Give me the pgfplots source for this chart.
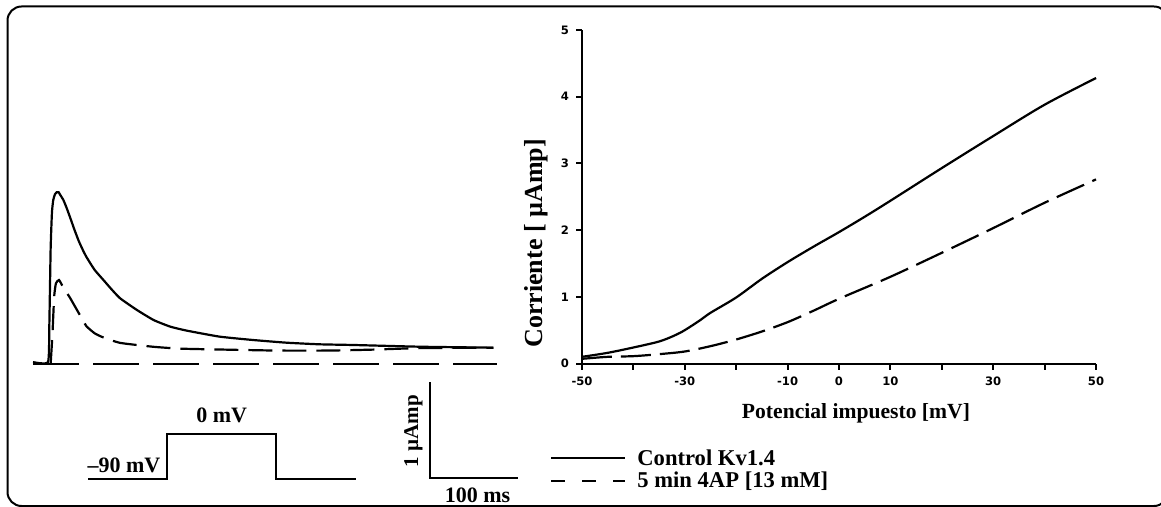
\documentclass[border=0pt]{standalone}
\usepackage{fontspec}
\setmainfont{Liberation Serif}
\newfontfamily\tickfam{DejaVu Sans}
\usepackage{pgfplots}
\usepackage{pgfplotstable}
\pgfplotsset{compat=1.18}

% I-V curves (right panel): potential [mV], current [uA]
\pgfplotstableread{
v     i
-50   0.10
-45   0.16
-40   0.24
-35   0.33
-32   0.42
-30   0.50
-27   0.65
-25   0.76
-20   0.99
-15   1.27
-10   1.52
-5    1.75
0     1.97
5     2.20
10    2.44
20    2.93
30    3.41
40    3.88
50    4.28
}\ivcontrol
\pgfplotstableread{
v     i
-50   0.07
-45   0.10
-40   0.11
-35   0.14
-30   0.18
-25   0.26
-20   0.36
-15   0.48
-10   0.62
-5    0.79
0     0.97
10    1.30
20    1.66
30    2.03
40    2.41
50    2.76
}\ivfourap

% current traces (left panel): time [ms], current [uA]
\pgfplotstableread{
t     i
-17   0.02
0     0.02
1.5   0.40
3     1.20
4.5   1.58
6     1.71
8     1.77
10    1.79
12    1.79
14    1.76
17.4  1.71
21    1.63
25    1.53
30    1.40
35    1.28
40    1.18
44    1.11
53    0.98
63    0.875
72    0.78
82    0.684
101   0.563
120   0.458
139   0.389
158   0.347
195   0.285
233   0.250
271   0.222
309   0.205
347   0.198
423   0.180
506   0.170
}\trcontrol
\pgfplotstableread{
t     i
3     0.00
5     0.30
7     0.70
9     0.84
12.5  0.875
16    0.82
20    0.76
25    0.69
30    0.61
35    0.53
40    0.45
44    0.39
53    0.32
62    0.28
82    0.22
119   0.18
150   0.16
200   0.15
260   0.14
320   0.14
370   0.15
420   0.165
506   0.17
}\trfourap

\newcommand\ticks{\fontsize{5.8}{7}\selectfont\tickfam\bfseries}
\newcommand\lab[1]{\fontsize{#1}{#1}\selectfont\bfseries}

\begin{document}
\begin{tikzpicture}
\useasboundingbox (0,0) rectangle (580.5pt,-253.5pt);
\clip (0,0) rectangle (580.5pt,-253.5pt);

% left panel: traces, no visible axes
\begin{axis}[
  at={(15.2pt,-244.4pt)}, anchor=south west,
  scale only axis, width=246.4pt, height=158.4pt,
  xmin=-20, xmax=540, ymin=-1.3, ymax=2,
  axis lines=none, clip=false,
]
  \addplot[black, line width=1pt, dash pattern=on 23pt off 7pt] coordinates {(-17,0) (510,0)};
  \addplot[black, line width=1.1pt, smooth, tension=0.3] table[x=t, y=i] {\trcontrol};
  \addplot[black, line width=1.1pt, smooth, tension=0.3, dash pattern=on 12pt off 5pt] table[x=t, y=i] {\trfourap};
  % scale bars: 1 uA, 100 ms
  \addplot[black, line width=1pt] coordinates {(434,-0.19) (434,-1.19) (534,-1.19)};
\end{axis}

% right panel: I-V relation
\begin{axis}[
  at={(291pt,-181.75pt)}, anchor=south west,
  scale only axis, width=257pt, height=166.75pt,
  xmin=-50, xmax=50, ymin=0, ymax=5,
  axis lines=left, axis line style={-, line width=1pt},
  tick align=outside, major tick length=3pt,
  tick style={line width=1pt, black},
  xtick={-50,-40,...,50}, xticklabels={-50,,-30,,-10,0,10,,30,,50},
  ytick={0,1,2,3,4,5},
  tick label style={font=\ticks},
  /pgf/number format/assume math mode=true,
  xlabel={Potencial impuesto [mV]},
  ylabel={Corriente [ µAmp]},
  xlabel style={font=\lab{10.8}, at={(axis description cs:0.533,-0.148)}, anchor=center},
  ylabel style={font=\lab{13}, at={(axis description cs:-0.09,0.36)}, anchor=center},
  clip=false,
]
  \addplot[black, line width=1.1pt, smooth, tension=0.5] table[x=v, y=i] {\ivcontrol};
  \addplot[black, line width=1.1pt, smooth, tension=0.5, dash pattern=on 15pt off 4.5pt] table[x=v, y=i] {\ivfourap};
\end{axis}

% pixel coordinates for frame, protocol and legend
\begin{scope}[x=0.5pt, y=-0.5pt]
  \draw[line width=1pt, rounded corners=7pt] (7.5,6.5) rectangle (1168,506);
  % voltage protocol
  \draw[line width=1pt] (88.3,479) -- (166.7,479) -- (166.7,434.3) -- (276,434.3) -- (276,479) -- (356,479);
  \node[font=\lab{11}] at (221.7,415.7) {0 mV};
  \node[font=\lab{11}] at (124,465) {–90 mV};
  \node[font=\lab{10.5}, rotate=90] at (413.3,431) {1 µAmp};
  \node[font=\lab{11}] at (477.5,495) {100 ms};
  % legend
  \draw[line width=1pt] (551,457.7) -- (625,457.7);
  \draw[line width=1pt, dash pattern=on 7pt off 8.5pt] (551,481) -- (625,481);
  \node[font=\lab{11.3}, anchor=west, inner sep=0pt] at (637,457.7) {Control Kv1.4};
  \node[font=\lab{11.3}, anchor=west, inner sep=0pt] at (637,481) {5 min 4AP [13 mM]};
\end{scope}
\end{tikzpicture}
\end{document}
